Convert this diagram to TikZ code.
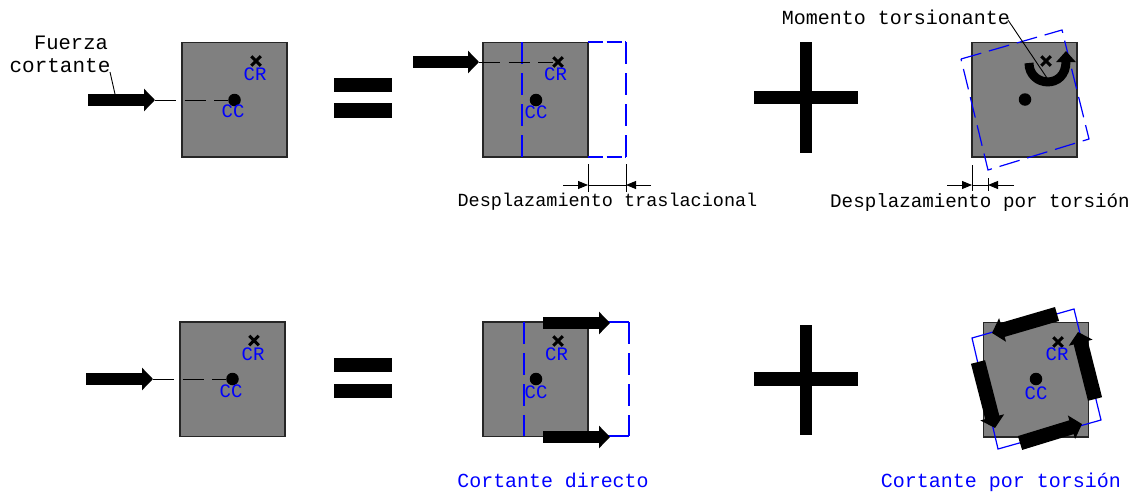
\documentclass[tikz,border=0pt]{standalone}
\usepackage{fontspec}
\setmainfont{Liberation Mono}
\usetikzlibrary{arrows.meta,shapes.misc}
\definecolor{panel}{HTML}{808080}
\definecolor{cadblue}{RGB}{0,0,255}
\tikzset{
  plate/.style={draw=black!85,line width=1.5pt,fill=panel,minimum width=105pt,minimum height=114.5pt,inner sep=0pt,outer sep=0pt},
  dotc/.style={circle,fill=black,minimum size=12.5pt,inner sep=0pt,outer sep=0pt},
  crossr/.style={cross out,draw=black,line width=3pt,minimum size=9.5pt,inner sep=0pt,outer sep=0pt},
  blab/.style={text=cadblue,inner sep=0pt,font=\fontsize{19}{19}\selectfont},
  klab/.style={text=black,inner sep=0pt,font=\fontsize{#1}{#1}\selectfont},
  clab/.style={text=cadblue,inner sep=0pt,font=\fontsize{#1}{#1}\selectfont},
  force/.style={line width=12.5pt,-{Triangle[length=11pt,width=22pt]},black},
  forcerot/.style={line width=14.5pt,-{Triangle[length=11pt,width=24pt]},black},
  axisline/.style={black,line width=1pt,dash pattern=on 21pt off 8.5pt},
  ghost/.style={cadblue,line width=1.2pt,dash pattern=on 22pt off 9pt},
  ghostrot/.style={cadblue,line width=1.2pt,dash pattern=on 21pt off 8pt},
  leader/.style={black,line width=.9pt},
  dimline/.style={black,line width=.9pt},
  dimtip/.style={black,line width=.9pt,-{Triangle[length=10pt,width=8pt]}},
}
\begin{document}
\begin{tikzpicture}[x=1pt,y=-1pt]
\useasboundingbox (0,0) rectangle (1137,493);
% equals and plus signs
\fill (334,78) rectangle (392,92);
\fill (334,103) rectangle (392,118);
\fill (334,358) rectangle (392,372);
\fill (334,384) rectangle (392,398);
\fill (754,91) rectangle (858,104);
\fill (800,42) rectangle (812,153);
\fill (754,372) rectangle (858,386);
\fill (800,325) rectangle (812,435);

% plates
\node[plate] (A) at (234.5,99.5) {};
\node[plate] (B) at (535.5,99.5) {};
\node[plate] (C) at (1024.5,99.5) {};
\node[plate] (D) at (232.5,379) {};
\node[plate] (E) at (535.5,379) {};
\node[plate] (F) at (1036,379.5) {};

% panel A
\node[dotc] (Acc) at (234.5,100) {};
\node[crossr] (Acr) at (256,61) {};
\node[blab] (AcrT) at (255,74.5) {CR};
\node[blab] (AccT) at (233,111.5) {CC};
\coordinate (Afs) at (88,100);
\coordinate (Aft) at (155,100);
\draw[axisline] (Aft) -- (Acc);
\draw[force] (Afs) -- (Aft);
\node[klab=20.5] (Afu) at (71,43) {Fuerza};
\node[klab=21] (Aco) at (60,66) {cortante};
\coordinate (Al1) at (110,72);
\coordinate (Al2) at (115,94);
\draw[leader] (Al1) -- (Al2);

% panel B
\coordinate (Bu1) at (522,42);  \coordinate (Bu2) at (522,157);
\coordinate (Br0) at (588,42);  \coordinate (Br1) at (626,42);
\coordinate (Br2) at (626,157); \coordinate (Br3) at (588,157);
\draw[ghost] (Bu1) -- (Bu2);
\draw[ghost,dash pattern=on 15pt off 3.5pt] (Br0) -- (Br1);
\draw[ghost] (Br1) -- (Br2);
\draw[ghost,dash pattern=on 15pt off 3.5pt] (Br3) -- (Br2);
\node[dotc] (Bcc) at (536,100) {};
\node[crossr] (Bcr) at (558,62) {};
\node[blab] (BcrT) at (555.5,74.5) {CR};
\node[blab] (BccT) at (536,112) {CC};
\coordinate (Bfs) at (413,62);
\coordinate (Bft) at (479,62);
\draw[axisline] (Bft) -- (Bcr);
\draw[force] (Bfs) -- (Bft);
\coordinate (Bd1) at (588,164); \coordinate (Bd2) at (588,192);
\coordinate (Bd3) at (626,164); \coordinate (Bd4) at (626,192);
\coordinate (Bd5) at (563,185); \coordinate (Bd6) at (588,185);
\coordinate (Bd7) at (651,185); \coordinate (Bd8) at (626,185);
\draw[dimline] (Bd1) -- (Bd2);
\draw[dimline] (Bd3) -- (Bd4);
\draw[dimline] (Bd6) -- (Bd8);
\draw[dimtip] (Bd5) -- (Bd6);
\draw[dimtip] (Bd7) -- (Bd8);
\node[klab=18.5] (Btxt) at (607.5,201.5) {Desplazamiento traslacional};

% panel C
\coordinate (Cq1) at (961,59);  \coordinate (Cq2) at (1062,30);
\coordinate (Cq3) at (1089,139); \coordinate (Cq4) at (988,170);
\draw[ghostrot] (Cq1) -- (Cq2) -- (Cq3) -- (Cq4) -- cycle;
\node[dotc] (Ccc) at (1025,99.5) {};
\node[crossr] (Ccr) at (1046,61) {};
\coordinate (Cm1) at (1029,63);
\coordinate (Cm2) at (1066,51);
\draw[black,line width=9pt,-{Triangle[length=11pt,width=19pt]}] (Cm1) .. controls (1029,87) and (1066,90) .. (Cm2);
\node[klab=20] (Ctop) at (896,17) {Momento torsionante};
\coordinate (Cl1) at (1008,20);
\coordinate (Cl2) at (1047,78);
\draw[leader] (Cl1) -- (Cl2);
\coordinate (Cd1) at (972,165); \coordinate (Cd2) at (972,191);
\coordinate (Cd3) at (988,178); \coordinate (Cd4) at (988,191);
\coordinate (Cd5) at (947,185); \coordinate (Cd6) at (972,185);
\coordinate (Cd7) at (1014,185); \coordinate (Cd8) at (988,185);
\draw[dimline] (Cd1) -- (Cd2);
\draw[dimline] (Cd3) -- (Cd4);
\draw[dimline] (Cd6) -- (Cd8);
\draw[dimtip] (Cd5) -- (Cd6);
\draw[dimtip] (Cd7) -- (Cd8);
\node[klab=19.2] (Ctxt) at (980,202.5) {Desplazamiento por torsión};

% panel D
\node[dotc] (Dcc) at (232.5,379) {};
\node[crossr] (Dcr) at (254,340.5) {};
\node[blab] (DcrT) at (253,354) {CR};
\node[blab] (DccT) at (231,391) {CC};
\coordinate (Dfs) at (86,379);
\coordinate (Dft) at (153,379);
\draw[axisline] (Dft) -- (Dcc);
\draw[force] (Dfs) -- (Dft);

% panel E
\coordinate (Eu1) at (524,322);  \coordinate (Eu2) at (524,436);
\coordinate (Er1) at (629,322);  \coordinate (Er2) at (629,436);
\coordinate (Er0) at (588,322);  \coordinate (Er3) at (588,436);
\draw[ghost] (Eu1) -- (Eu2);
\draw[cadblue,line width=1.2pt] (Er0) -- (Er1);
\draw[cadblue,line width=1.2pt] (Er3) -- (Er2);
\draw[ghost] (Er1) -- (Er2);
\node[dotc] (Ecc) at (536,379) {};
\node[crossr] (Ecr) at (558,341) {};
\node[blab] (EcrT) at (556.5,354.5) {CR};
\node[blab] (EccT) at (536,392) {CC};
\coordinate (Efs1) at (543,323);
\coordinate (Eft1) at (610,323);
\coordinate (Efs2) at (543,437);
\coordinate (Eft2) at (610,437);
\draw[force] (Efs1) -- (Eft1);
\draw[force] (Efs2) -- (Eft2);
\node[clab=19.9] (Etxt) at (553,480) {Cortante directo};

% panel F
\coordinate (Fq1) at (972,338);  \coordinate (Fq2) at (1074,309);
\coordinate (Fq3) at (1101,420); \coordinate (Fq4) at (998,449);
\draw[cadblue,line width=1.2pt] (Fq1) -- (Fq2) -- (Fq3) -- (Fq4) -- cycle;
\node[dotc] (Fcc) at (1036,379) {};
\node[crossr] (Fcr) at (1058,342) {};
\node[blab] (FcrT) at (1057,354.5) {CR};
\node[blab] (FccT) at (1036,393) {CC};
\coordinate (Ff1s) at (1057,314); \coordinate (Ff1t) at (992,333);
\coordinate (Ff2s) at (1095,399); \coordinate (Ff2t) at (1078,332);
\coordinate (Ff3s) at (1020,443); \coordinate (Ff3t) at (1082,424);
\coordinate (Ff4s) at (978,362);  \coordinate (Ff4t) at (995,428);
\draw[forcerot] (Ff1s) -- (Ff1t);
\draw[forcerot] (Ff2s) -- (Ff2t);
\draw[forcerot] (Ff3s) -- (Ff3t);
\draw[forcerot] (Ff4s) -- (Ff4t);
\node[clab=20] (Ftxt) at (1001,482) {Cortante por torsión};
\end{tikzpicture}
\end{document}
